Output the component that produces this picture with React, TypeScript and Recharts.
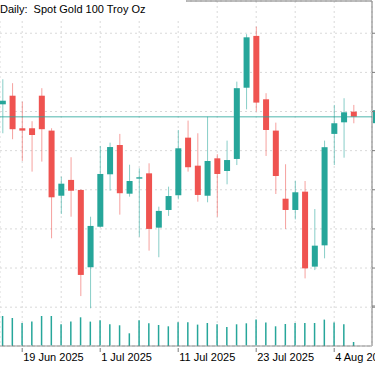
import React from 'react';
import { ComposedChart, Bar, XAxis, YAxis, CartesianGrid, ReferenceLine } from 'recharts';

// daily candles, Jun 17 -> Aug 6 2025
const dates = [
  '17 Jun 2025', '18 Jun 2025', '19 Jun 2025', '20 Jun 2025', '23 Jun 2025', '24 Jun 2025', '25 Jun 2025',
  '26 Jun 2025', '27 Jun 2025', '30 Jun 2025', '1 Jul 2025', '2 Jul 2025', '3 Jul 2025', '4 Jul 2025',
  '7 Jul 2025', '8 Jul 2025', '9 Jul 2025', '10 Jul 2025', '11 Jul 2025', '14 Jul 2025', '15 Jul 2025',
  '16 Jul 2025', '17 Jul 2025', '18 Jul 2025', '21 Jul 2025', '22 Jul 2025', '23 Jul 2025', '24 Jul 2025',
  '25 Jul 2025', '28 Jul 2025', '29 Jul 2025', '30 Jul 2025', '31 Jul 2025', '1 Aug 2025', '4 Aug 2025',
  '5 Aug 2025', '6 Aug 2025',
];
const opens = [
  3379.6, 3385.1, 3364.3, 3364.3, 3385.1, 3362.8, 3321.2, 3331.3, 3324.9, 3275.5, 3301.4, 3334.9, 3353.6,
  3322.5, 3332.1, 3335.5, 3300.8, 3312.1, 3321.5, 3358.3, 3340.4, 3321.2, 3345.1, 3337.0, 3344.7, 3390.2,
  3423.3, 3382.8, 3362.8, 3319.3, 3312.1, 3323.8, 3275.9, 3289.5, 3360.7, 3368.1, 3374.9,
];
const highs = [
  3395.6, 3393.1, 3381.3, 3368.8, 3389.9, 3364.3, 3333.4, 3345.8, 3325.2, 3307.8, 3353.0, 3355.1, 3360.7,
  3341.0, 3338.7, 3341.9, 3314.2, 3327.0, 3363.2, 3369.2, 3361.1, 3371.7, 3347.7, 3356.4, 3394.1, 3424.4,
  3429.2, 3386.7, 3367.9, 3341.3, 3330.8, 3330.6, 3312.7, 3356.4, 3379.2, 3383.5, 3379.2,
];
const lows = [
  3361.1, 3357.3, 3343.4, 3336.6, 3343.0, 3294.0, 3309.5, 3307.8, 3257.1, 3249.3, 3301.0, 3324.4, 3309.1,
  3320.6, 3295.0, 3286.1, 3281.9, 3308.3, 3318.9, 3336.6, 3317.4, 3317.0, 3307.8, 3328.5, 3340.8, 3376.4,
  3374.9, 3346.6, 3322.3, 3300.0, 3306.1, 3268.4, 3273.7, 3281.2, 3340.8, 3345.5, 3367.5,
];
const closes = [
  3381.9, 3363.7, 3362.8, 3360.0, 3363.7, 3320.2, 3328.9, 3324.4, 3270.6, 3301.9, 3335.1, 3352.3, 3322.8,
  3330.6, 3333.0, 3300.0, 3311.5, 3321.0, 3351.5, 3339.4, 3321.7, 3343.4, 3335.1, 3344.0, 3389.9, 3422.4,
  3380.7, 3363.2, 3333.8, 3312.1, 3323.4, 3274.8, 3289.3, 3352.2, 3367.5, 3374.5, 3371.7,
];
const volumes = [
  30000, 28000, 23000, 24400, 30000, 30000, 21700, 24400, 28700, 24400, 25700, 21700, 20700, 12700,
  25700, 22700, 21000, 19700, 23700, 23700, 21400, 23000, 21700, 19000, 21700, 22700, 26400, 23400,
  19700, 22000, 23000, 23000, 23000, 26400, 23400, 21700, 4000,
];

const priceTicks = [3250, 3275, 3300, 3325, 3350, 3375, 3400, 3425];
const gridTicks = [2, 6, 10, 14, 18, 22, 26, 30, 34];
const labelTicks = [2, 10, 18, 26, 34];

const UP = '#26a69a';
const DOWN = '#ef5350';
const AXIS = '#7a7a7a';
const GRID = '#d9d9d9';
const FONT = '"Liberation Sans", Arial, sans-serif';

const W = 430;
const H = 366;
const X_DOMAIN: [number, number] = [-0.277, 37.877];

const data = dates.map((d, i) => ({
  i,
  date: d,
  open: opens[i],
  high: highs[i],
  low: lows[i],
  close: closes[i],
  range: [lows[i], highs[i]],
  volume: volumes[i],
}));

const lastClose = closes[closes.length - 1];

const Candle = (props: any) => {
  const { x, y, width, height, payload } = props;
  if (!payload) return null;
  const { open, close, high, low } = payload;
  const top = Math.min(y, y + height);
  const h = Math.abs(height);
  const k = high === low ? 0 : h / (high - low);
  const py = (v: number) => top + (high - v) * k;
  const cx = x + width / 2;
  const color = close >= open ? UP : DOWN;
  const bodyTop = py(Math.max(open, close));
  const bodyH = Math.max(1.2, Math.abs(py(open) - py(close)));
  return (
    <g>
      <line x1={cx} x2={cx} y1={top} y2={top + h} stroke={color} strokeOpacity={0.55} strokeWidth={1} />
      <rect x={cx - 3} y={bodyTop} width={6} height={bodyH} fill={color} />
    </g>
  );
};

const XTick = (props: any) => {
  const { x, y, payload } = props;
  const idx = payload.value;
  if (!labelTicks.includes(idx)) return null;
  return (
    <g>
      <line x1={x} x2={x} y1={y} y2={y + 4} stroke={AXIS} />
      <text x={x + 1} y={y + 13} fontSize={11} fontFamily={FONT} fill="#000" textAnchor="start">
        {dates[idx]}
      </text>
    </g>
  );
};

// price scale labels sit outside the visible crop, only the tick marks show
const NoLabel = () => <g />;

const PriceTag = (props: any) => {
  const vb = props.viewBox || {};
  const right = vb.x + vb.width;
  return <rect x={right + 1} y={vb.y - 6.5} width={56} height={13} fill={UP} />;
};

const App: React.FC = () => {
  return (
    <div style={{ position: 'absolute', left: 0, top: 0, width: 375, height: 366, overflow: 'hidden', background: '#fff' }}>
      {/* volume pane + vertical grid + time axis */}
      <div style={{ position: 'absolute', left: 0, top: 0 }}>
        <ComposedChart width={W} height={H} data={data} margin={{ top: 1, right: 0, left: 0, bottom: 0 }}>
          <CartesianGrid horizontal={false} stroke={GRID} strokeDasharray="2 3" />
          <XAxis
            type="number"
            dataKey="i"
            domain={X_DOMAIN}
            allowDataOverflow
            ticks={gridTicks}
            interval={0}
            height={20}
            tickSize={0}
            tickLine={false}
            tick={<XTick />}
            axisLine={{ stroke: AXIS }}
          />
          <YAxis
            orientation="right"
            width={58}
            domain={[0, 345000]}
            allowDataOverflow
            ticks={[40000]}
            tickSize={4}
            tickLine={{ stroke: AXIS }}
            axisLine={{ stroke: AXIS }}
            tick={<NoLabel />}
          />
          <Bar dataKey="volume" barSize={1.5} fill={UP} isAnimationActive={false} />
        </ComposedChart>
      </div>

      {/* price pane */}
      <div style={{ position: 'absolute', left: 0, top: 0 }}>
        <ComposedChart width={W} height={H} data={data} margin={{ top: 1, right: 0, left: 0, bottom: 20 }}>
          <CartesianGrid vertical={false} stroke={GRID} strokeDasharray="2 3" />
          <XAxis type="number" dataKey="i" domain={X_DOMAIN} allowDataOverflow hide />
          <YAxis
            orientation="right"
            width={58}
            domain={[3225.2, 3445.6]}
            allowDataOverflow
            ticks={priceTicks}
            tickSize={4}
            tickLine={{ stroke: AXIS }}
            axisLine={false}
            tick={<NoLabel />}
          />
          <ReferenceLine y={3445.6} stroke={AXIS} strokeWidth={1} />
          <ReferenceLine
            y={lastClose}
            stroke={UP}
            strokeOpacity={0.55}
            strokeWidth={1.5}
            label={(p: any) => <PriceTag {...p} />}
          />
          <Bar dataKey="range" barSize={6} shape={<Candle />} isAnimationActive={false} />
        </ComposedChart>
      </div>

      <div
        style={{
          position: 'absolute',
          left: 0,
          top: 0,
          width: 186,
          height: 18,
          background: '#fff',
          fontFamily: FONT,
          fontSize: 11,
          lineHeight: '14px',
          paddingTop: 2,
          boxSizing: 'border-box',
          whiteSpace: 'pre',
          color: '#000',
        }}
      >
        {'Daily:  Spot Gold 100 Troy Oz'}
      </div>
    </div>
  );
};

export default App;
